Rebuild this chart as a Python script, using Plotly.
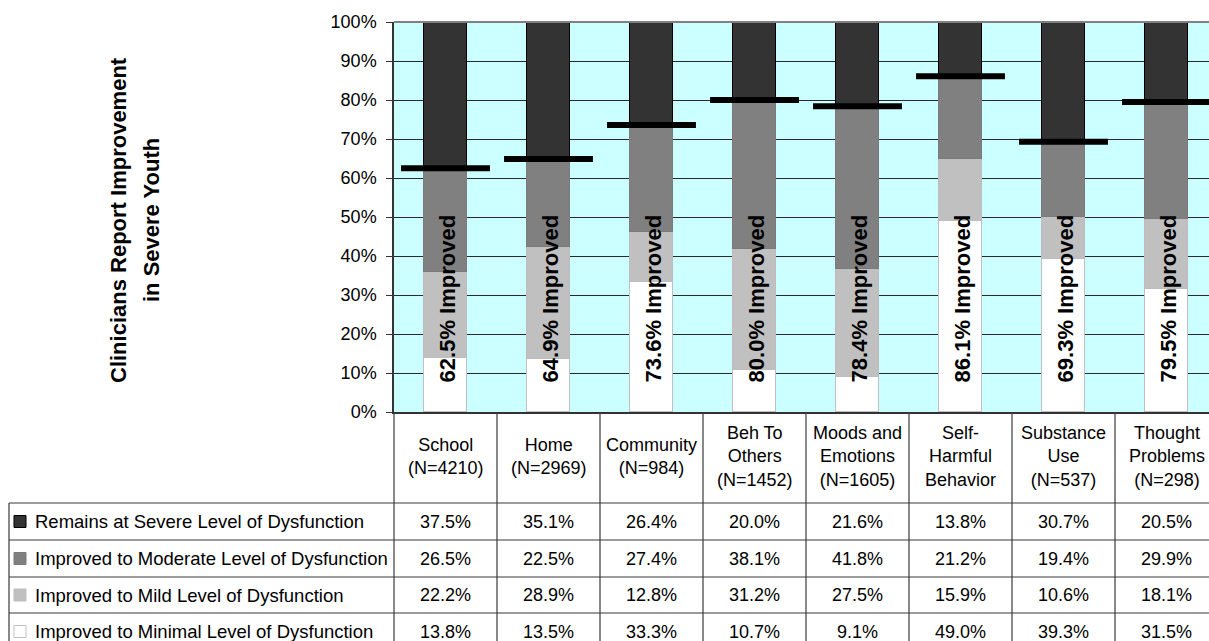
import plotly.graph_objects as go

categories = ["School<br>(N=4210)", "Home<br>(N=2969)", "Community<br>(N=984)",
              "Beh To<br>Others<br>(N=1452)", "Moods and<br>Emotions<br>(N=1605)",
              "Self-<br>Harmful<br>Behavior", "Substance<br>Use<br>(N=537)",
              "Thought<br>Problems<br>(N=298)"]
series_names = ["Remains at Severe Level of Dysfunction",
                "Improved to Moderate Level of Dysfunction",
                "Improved to Mild Level of Dysfunction",
                "Improved to Minimal Level of Dysfunction"]
severe = [37.5, 35.1, 26.4, 20.0, 21.6, 13.8, 30.7, 20.5]
moderate = [26.5, 22.5, 27.4, 38.1, 41.8, 21.2, 19.4, 29.9]
mild = [22.2, 28.9, 12.8, 31.2, 27.5, 15.9, 10.6, 18.1]
minimal = [13.8, 13.5, 33.3, 10.7, 9.1, 49.0, 39.3, 31.5]
improved = [62.5, 64.9, 73.6, 80.0, 78.4, 86.1, 69.3, 79.5]
yticks = [0, 10, 20, 30, 40, 50, 60, 70, 80, 90, 100]

FONT = "Liberation Sans, Arial, sans-serif"
W, H = 1209, 641
L, T, B = 394, 22, 412
CW = 103.0
fills = ["#333333", "#808080", "#c0c0c0", "#ffffff"]
edges = ["#000000", "#7a7a7a", "#bdbdbd", "#c0c0c0"]

x = list(range(len(categories)))
fig = go.Figure()
# stacked bars: bottom to top
stack = [(minimal, 3), (mild, 2), (moderate, 1), (severe, 0)]
for vals, i in stack:
    fig.add_trace(go.Bar(x=x, y=vals, width=0.41, name=series_names[i],
                         marker=dict(color=fills[i], line=dict(color=edges[i], width=1.2)),
                         showlegend=False, hoverinfo="skip"))
fig.add_trace(go.Scatter(x=x, y=improved, mode="markers", showlegend=False,
                         marker=dict(symbol="line-ew", size=63.5, color="black",
                                     line=dict(width=6, color="black")),
                         cliponaxis=False, hoverinfo="skip"))

pw = W - L
ph = B - T
def px(v):
    return (v - L) / pw
def py(v):
    return (B - v) / ph

ann = []
shapes = []
# improved labels
for i, v in enumerate(improved):
    ann.append(dict(x=i, y=29, xref="x", yref="y", text=f"<b>{v:.1f}% Improved</b>",
                    textangle=-90, showarrow=False, xshift=2, xanchor="center", yanchor="middle",
                    font=dict(family=FONT, size=22, color="black")))
# y-axis title (two lines)
ann.append(dict(x=px(118), y=py(220), xref="paper", yref="paper", xanchor="center", yanchor="middle",
                text="<b>Clinicians Report Improvement</b>", textangle=-90, showarrow=False,
                font=dict(family=FONT, size=22, color="black")))
ann.append(dict(x=px(151), y=py(220), xref="paper", yref="paper", xanchor="center", yanchor="middle",
                text="<b>in Severe Youth</b>", textangle=-90, showarrow=False,
                font=dict(family=FONT, size=22, color="black")))
# header labels
for i, c in enumerate(categories):
    ann.append(dict(x=i, y=py(456), xref="x", yref="paper", text=c, showarrow=False,
                    xanchor="center", yanchor="middle", font=dict(family=FONT, size=18, color="black")))
# table
row_lines = [503, 540, 577, 613, 650]
table_vals = [severe, moderate, mild, minimal]
for r in range(4):
    yc = (row_lines[r] + row_lines[r + 1]) / 2
    ann.append(dict(x=px(33), y=py(yc), xref="paper", yref="paper", text=series_names[r],
                    xanchor="left", yanchor="middle", showarrow=False,
                    font=dict(family=FONT, size=18.5, color="black")))
    shapes.append(dict(type="rect", xref="paper", yref="paper",
                       x0=px(14), x1=px(26), y0=py(yc + 6), y1=py(yc - 6),
                       fillcolor=fills[r], line=dict(color="#000000" if r == 0 else edges[r], width=1)))
    for i, v in enumerate(table_vals[r]):
        ann.append(dict(x=i, y=py(yc), xref="x", yref="paper", text=f"{v:.1f}%",
                        showarrow=False, xanchor="center", yanchor="middle",
                        font=dict(family=FONT, size=18, color="black")))
lc = "#3a3a3a"
for yl in row_lines[:4]:
    shapes.append(dict(type="line", xref="paper", yref="paper", x0=px(9), x1=px(W + 5),
                       y0=py(yl), y1=py(yl), line=dict(color=lc, width=1.2)))
shapes.append(dict(type="line", xref="paper", yref="paper", x0=px(9), x1=px(9),
                   y0=py(503), y1=py(H + 5), line=dict(color=lc, width=1.2)))
shapes.append(dict(type="line", xref="paper", yref="paper", x0=px(L), x1=px(L),
                   y0=py(B), y1=py(H + 5), line=dict(color=lc, width=1.2)))
for k in range(1, len(categories)):
    xx = L + k * CW
    shapes.append(dict(type="line", xref="paper", yref="paper", x0=px(xx), x1=px(xx),
                       y0=py(B), y1=py(H + 5), line=dict(color=lc, width=1.2)))
# top border of plot area
shapes.append(dict(type="line", xref="paper", yref="paper", x0=0, x1=1, y0=1, y1=1,
                   line=dict(color="#808080", width=2)))

fig.update_layout(
    width=W, height=H, barmode="stack", bargap=0,
    margin=dict(l=L, r=0, t=T, b=H - B, pad=0),
    paper_bgcolor="white", plot_bgcolor="#ccffff",
    annotations=ann, shapes=shapes,
    xaxis=dict(range=[-0.5, -0.5 + pw / CW], showticklabels=False, showgrid=False,
               zeroline=False, showline=True, linecolor="#333333", linewidth=1.5, ticks=""),
    yaxis=dict(range=[0, 100], tickvals=yticks, ticktext=[f"{t}%" for t in yticks],
               showgrid=True, gridcolor="#2a2a2a", gridwidth=1, zeroline=False,
               showline=True, linecolor="#333333", linewidth=1.5,
               ticks="outside", ticklen=6, tickcolor="#333333",
               tickfont=dict(family=FONT, size=18, color="black"), ticklabelstandoff=6),
)
fig.write_html("out.html")
